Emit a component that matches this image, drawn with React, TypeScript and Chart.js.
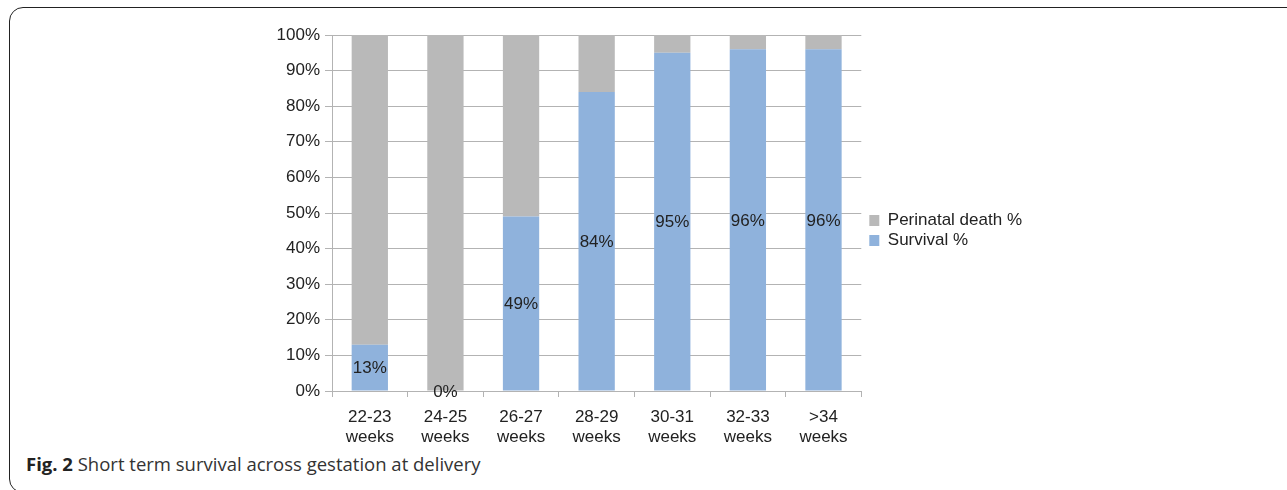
import React, { useEffect, useRef } from "react";
import { Chart, registerables } from "chart.js";

Chart.register(...registerables);

const categories: string[][] = [
  ["22-23", "weeks"],
  ["24-25", "weeks"],
  ["26-27", "weeks"],
  ["28-29", "weeks"],
  ["30-31", "weeks"],
  ["32-33", "weeks"],
  [">34", "weeks"],
];
const survival: number[] = [13, 0, 49, 84, 95, 96, 96];
const perinatalDeath: number[] = [87, 100, 51, 16, 5, 4, 4];
const seriesNames = ["Survival %", "Perinatal death %"];
const yTicks: number[] = [0, 10, 20, 30, 40, 50, 60, 70, 80, 90, 100];

const FONT = "'Liberation Sans', Arial, Helvetica, sans-serif";
const TEXT = "#222222";
const GRID = "#b3b3b3";

const dataLabelPlugin = {
  id: "survivalLabels",
  afterDatasetsDraw(chart: any) {
    const ctx = chart.ctx;
    const meta = chart.getDatasetMeta(0);
    ctx.save();
    ctx.font = `17px ${FONT}`;
    ctx.fillStyle = TEXT;
    ctx.textAlign = "center";
    ctx.textBaseline = "middle";
    meta.data.forEach((el: any, i: number) => {
      const y = (el.y + el.base) / 2;
      ctx.fillText(`${survival[i]}%`, el.x, y + 1);
    });
    ctx.restore();
  },
};

const legendShiftPlugin = {
  id: "legendShift",
  afterLayout(chart: any) {
    const lg = chart.legend;
    if (!lg) return;
    lg.left += 5;
    lg.bottom -= 20;
  },
};

export default function App() {
  const ref = useRef<HTMLCanvasElement | null>(null);

  useEffect(() => {
    if (!ref.current) return;
    const chart = new Chart(ref.current, {
      type: "bar",
      data: {
        labels: categories,
        datasets: [
          {
            label: seriesNames[0],
            data: survival,
            backgroundColor: "#8fb2dc",
            barPercentage: 0.48,
            categoryPercentage: 1,
          },
          {
            label: seriesNames[1],
            data: perinatalDeath,
            backgroundColor: "#b9b9b9",
            barPercentage: 0.48,
            categoryPercentage: 1,
          },
        ],
      },
      plugins: [dataLabelPlugin, legendShiftPlugin],
      options: {
        responsive: false,
        animation: false,
        layout: { padding: { left: 250, top: 35, bottom: 4, right: 260 } },
        plugins: {
          tooltip: { enabled: false },
          legend: {
            position: "right",
            reverse: true,
            labels: {
              boxWidth: 10,
              boxHeight: 11,
              padding: 3,
              color: TEXT,
              font: { size: 17, family: FONT },
            },
          },
        },
        scales: {
          x: {
            stacked: true,
            grid: {
              offset: true,
              drawOnChartArea: false,
              drawTicks: true,
              tickLength: 6,
              color: GRID,
            },
            border: { display: true, color: GRID, width: 1 },
            ticks: {
              color: TEXT,
              font: { size: 17, family: FONT, lineHeight: 1.2 },
              maxRotation: 0,
              autoSkip: false,
              padding: 10,
            },
            afterFit: (scale: any) => {
              scale.height = 55;
            },
          },
          y: {
            stacked: true,
            min: 0,
            max: 100,
            afterBuildTicks: (scale: any) => {
              scale.ticks = yTicks.map((v) => ({ value: v }));
            },
            grid: { color: GRID, tickLength: 7, drawTicks: true },
            border: { display: true, color: GRID, width: 1 },
            ticks: {
              color: TEXT,
              font: { size: 17, family: FONT },
              padding: 5,
              callback: (v: any) => `${v}%`,
            },
            afterFit: (scale: any) => {
              scale.width = 82;
            },
          },
        },
      },
    });
    return () => chart.destroy();
  }, []);

  return (
    <div
      style={{
        position: "absolute",
        left: 0,
        top: 0,
        width: 1287,
        height: 490,
        overflow: "hidden",
        background: "#ffffff",
      }}
    >
      <div
        style={{
          position: "absolute",
          left: 9,
          top: 7,
          width: 1320,
          height: 484,
          border: "1.5px solid #222",
          borderRadius: 14,
        }}
      />
      <canvas
        ref={ref}
        width={1287}
        height={450}
        style={{ position: "absolute", left: 0, top: 0, width: 1287, height: 450 }}
      />
      <div
        style={{
          position: "absolute",
          left: 26,
          top: 452,
          fontFamily: "'Open Sans', 'Noto Sans', sans-serif",
          fontSize: 18.5,
          lineHeight: "24px",
          color: "#333",
          whiteSpace: "nowrap",
        }}
      >
        <span style={{ fontWeight: 700, color: "#222" }}>Fig. 2</span> Short term survival across
        gestation at delivery
      </div>
    </div>
  );
}
